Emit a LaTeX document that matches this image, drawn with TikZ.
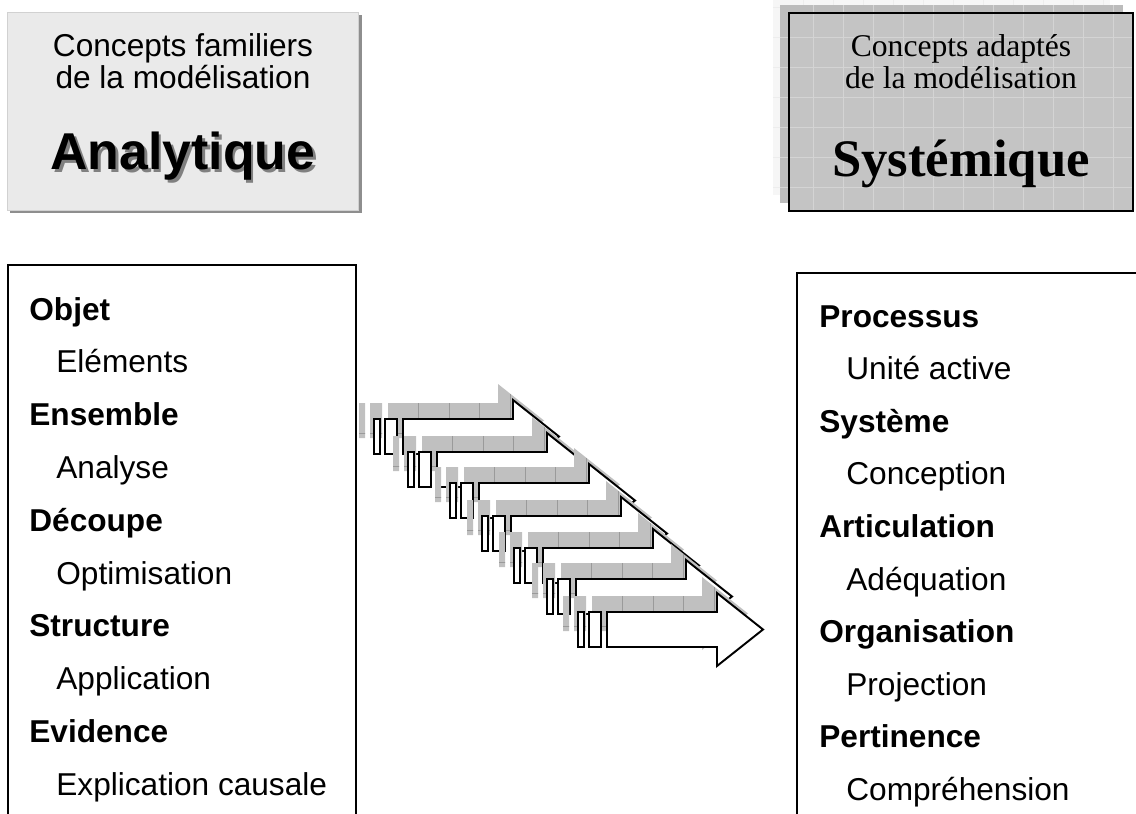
\documentclass[tikz,border=0pt]{standalone}
\usepackage{fontspec}
\setmainfont{Liberation Sans}
\newfontfamily\romain{Liberation Serif}

\definecolor{fondclair}{HTML}{EAEAEA}
\definecolor{ombreclair}{HTML}{8E8E8E}
\definecolor{fondgris}{HTML}{C4C4C4}
\definecolor{bandegris}{HTML}{BCBCBC}
\definecolor{lignegris}{HTML}{D4D4D4}
\definecolor{ombrefleche}{HTML}{C0C0C0}
\definecolor{grillefleche}{HTML}{9A9A9A}

% contour d'une fleche, origine au coin haut gauche du corps
\newcommand{\formefleche}{(0,0) -- (110,0) -- (110,-19) -- (156,17.5) -- (110,54) -- (110,35) -- (0,35) -- cycle
  (-29,0) rectangle (-23,35) (-18,0) rectangle (-6,35)}

\tikzset{
  titre/.style={inner sep=0pt, anchor=base, font=\fontsize{18}{21}\selectfont},
  gros/.style={inner sep=0pt, anchor=base, font=\fontsize{29.5}{34}\selectfont\bfseries},
  titreR/.style={inner sep=0pt, anchor=base, font=\fontsize{18}{21}\selectfont\romain},
  grosR/.style={inner sep=0pt, anchor=base, font=\fontsize{30}{34}\selectfont\romain\bfseries},
  terme/.style={inner sep=0pt, anchor=base west, font=\fontsize{18}{21}\selectfont\bfseries},
  sens/.style={inner sep=0pt, anchor=base west, font=\fontsize{18}{21}\selectfont},
  boite/.style={draw=black, line width=1.1pt},
  fleche/.style={fill=white, draw=black, line width=1.1pt, line join=miter},
  grille/.style={draw=grillefleche, line width=0.3pt},
  quadr/.style={draw=lignegris, line width=0.4pt}
}

\begin{document}
\begin{tikzpicture}[x=0.02cm, y=-0.02cm]
\useasboundingbox (0,0) rectangle (1136,814);
\clip (0,0) rectangle (1136,814);

  \begin{scope}
% en-tete gauche
\fill[ombreclair] (10,15) rectangle (362,213);
\draw[fill=fondclair, draw=white!82!black, line width=0.5pt] (7,12) rectangle (358,210);
\node[titre] (familiers) at (183,57) {Concepts familiers};
\node[titre] (modelA) at (183,89) {de la modélisation};
\node[gros, text=gray] at (185.5,172.5) {Analytique};
\node[gros] (analytique) at (183,170) {Analytique};

% en-tete droit
\fill[gray!7] (773,0) rectangle (1110,195);
\foreach \gx in {803,833,...,1103} \draw[gray!14, line width=0.4pt] (\gx,0) -- (\gx,195);
\foreach \gy in {7,37,...,187} \draw[gray!14, line width=0.4pt] (773,\gy) -- (1110,\gy);
\fill[bandegris] (780,5) rectangle (1123,203);
\fill[fondgris] (789,13) rectangle (1133,211);
\begin{scope}
\clip (780,5) rectangle (1133,211);
\foreach \gx in {813,843,...,1123} \draw[quadr] (\gx,5) -- (\gx,211);
\foreach \gy in {37,67,...,187} \draw[quadr] (780,\gy) -- (1133,\gy);
\end{scope}
\draw[line width=1.2pt] (789,13) rectangle (1133,211);
\node[titreR] (adaptes) at (961,57) {Concepts adaptés};
\node[titreR] (modelS) at (961,89) {de la modélisation};
\node[grosR] (systemique) at (961,177) {Systémique};

% liste gauche
\draw[boite] (8,820) -- (8,265) -- (356,265) -- (356,820);
\node[terme] (objet) at (29,320) {Objet};
\node[sens] (elements) at (56,372.8) {Eléments};
\node[terme] (ensemble) at (29,425.6) {Ensemble};
\node[sens] (analyse) at (56,478.4) {Analyse};
\node[terme] (decoupe) at (29,531.2) {Découpe};
\node[sens] (optim) at (56,584) {Optimisation};
\node[terme] (structure) at (29,636.8) {Structure};
\node[sens] (application) at (56,689.6) {Application};
\node[terme] (evidence) at (29,742.4) {Evidence};
\node[sens] (explication) at (56,795.2) {Explication causale};

% liste droite
\draw[boite] (797,820) -- (797,273) -- (1140,273);
\node[terme] (processus) at (819,327) {Processus};
\node[sens] (unite) at (846,379.6) {Unité active};
\node[terme] (systeme) at (819,432.2) {Système};
\node[sens] (conception) at (846,484.8) {Conception};
\node[terme] (articulation) at (819,537.4) {Articulation};
\node[sens] (adequation) at (846,590) {Adéquation};
\node[terme] (organisation) at (819,642.6) {Organisation};
\node[sens] (projection) at (846,695.2) {Projection};
\node[terme] (pertinence) at (819,747.8) {Pertinence};
\node[sens] (comprehension) at (846,800.4) {Compréhension};

% fleches en escalier
\foreach \bx/\by in {403/419, 437/452, 479/483, 511/516, 543/548, 576/579, 607/612} {
  \begin{scope}[shift={(\bx-15,\by-16)}]
    \fill[ombrefleche] \formefleche;
    \clip \formefleche;
    \draw[grille] (-40,30) -- (170,30);
    \foreach \gx in {30,61,91,122} \draw[grille] (\gx,-30) -- (\gx,60);
  \end{scope}
  \draw[fleche, shift={(\bx,\by)}] \formefleche;
}
\end{scope}

\end{tikzpicture}
\end{document}
